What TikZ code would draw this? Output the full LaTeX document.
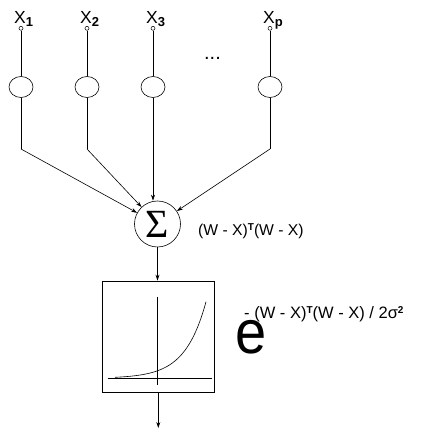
\documentclass[tikz,border=0pt]{standalone}
\usepackage{fontspec}
\setmainfont{Liberation Sans}
\newfontfamily\serifsig{Liberation Serif}
\usetikzlibrary{shapes.geometric,arrows.meta}
\tikzset{
  wire/.style={line width=0.6pt},
  arr/.style={line width=0.6pt,-{Stealth[length=6pt,width=4pt]}},
  inpt/.style={circle,draw,line width=0.5pt,inner sep=0pt,minimum size=4pt},
  kern/.style={ellipse,draw,line width=0.6pt,minimum width=24pt,minimum height=21pt,inner sep=0pt},
  xlab/.style={anchor=base,inner sep=0pt,font=\fontsize{17.5}{17.5}\selectfont},
  txt/.style={inner sep=0pt,font=\fontsize{15.7}{15.7}\selectfont},
  txtb/.style={inner sep=0pt,font=\fontsize{16.5}{16.5}\selectfont}
}
\newcommand{\xsub}[1]{\rlap{\raisebox{-3.5pt}{\fontsize{13}{13}\selectfont\bfseries #1}}}
\newcommand{\supb}[1]{\raisebox{5pt}{\fontsize{10}{10}\selectfont\bfseries #1}}
\begin{document}
\begin{tikzpicture}[x=1pt,y=1pt]
\useasboundingbox (0,0) rectangle (422,429);
% inputs
\node[inpt] (i1) at (21,400.7) {};
\node[inpt] (i2) at (87,400.7) {};
\node[inpt] (i3) at (153,400.7) {};
\node[inpt] (ip) at (270,400.7) {};
\node[xlab] (l1) at (20,405.7) {X\xsub{1}};
\node[xlab] (l2) at (86,405.7) {X\xsub{2}};
\node[xlab] (l3) at (152,405.7) {X\xsub{3}};
\node[xlab] (lp) at (269,405.7) {X\xsub{p}};
\node[inner sep=0pt,anchor=base,font=\fontsize{20}{20}\selectfont] (dots) at (212.5,369.5) {...};
% kernels
\node[kern] (k1) at (21,342) {};
\node[kern] (k2) at (87,342) {};
\node[kern] (k3) at (153,342) {};
\node[kern] (kp) at (270,342) {};
% bends
\coordinate (b1) at (21,280);
\coordinate (b2) at (87,280);
\coordinate (b3) at (153,280);
\coordinate (bp) at (270,280);
% sum
\node[circle,draw,line width=0.6pt,minimum size=46pt,inner sep=0pt] (sig) at (157.5,205)
  {\raisebox{-1pt}{\serifsig\fontsize{40}{40}\selectfont Σ}};
\node[txt,anchor=west] (dist) at (198,198.3) {(W - X)\supb{T}(W - X)};
% wires
\draw[wire] (i1) -- (k1); \draw[wire] (k1) -- (b1);
\draw[wire] (i2) -- (k2); \draw[wire] (k2) -- (b2);
\draw[wire] (i3) -- (k3); \draw[wire] (k3) -- (b3);
\draw[wire] (ip) -- (kp); \draw[wire] (kp) -- (bp);
\draw[arr] (b1) -- (sig);
\draw[arr] (b2) -- (sig);
\draw[arr] (b3) -- (b3 |- sig.north);
\draw[arr] (bp) -- (sig);
% activation box
\node[draw,line width=0.6pt,minimum width=112pt,minimum height=111.7pt,inner sep=0pt] (box) at (158.3,92.2) {};
\draw[arr] (sig.south) -- (sig.south |- box.north);
\coordinate (out) at (158.3,1);
\draw[arr] (box.south) -- (out);
\coordinate (va) at (157.7,132);
\coordinate (vb) at (157.7,44);
\coordinate (ha) at (107.7,50.7);
\coordinate (hb) at (211.7,50.7);
\draw[wire] (va) -- (vb);
\draw[wire] (ha) -- (hb);
\draw[wire] plot[domain=115:206,samples=80,smooth] (\x,{50.7+7.6*exp(0.0478*(\x-157.7))});
% formula
\node[inner sep=0pt,anchor=base west,yscale=1.1,font=\fontsize{56}{56}\selectfont] (e) at (235,75.5) {e};
\node[txtb,anchor=base west] (expo) at (244,110.7) {- (W - X)\supb{T}(W - X) / 2σ\supb{2}};
\end{tikzpicture}
\end{document}
